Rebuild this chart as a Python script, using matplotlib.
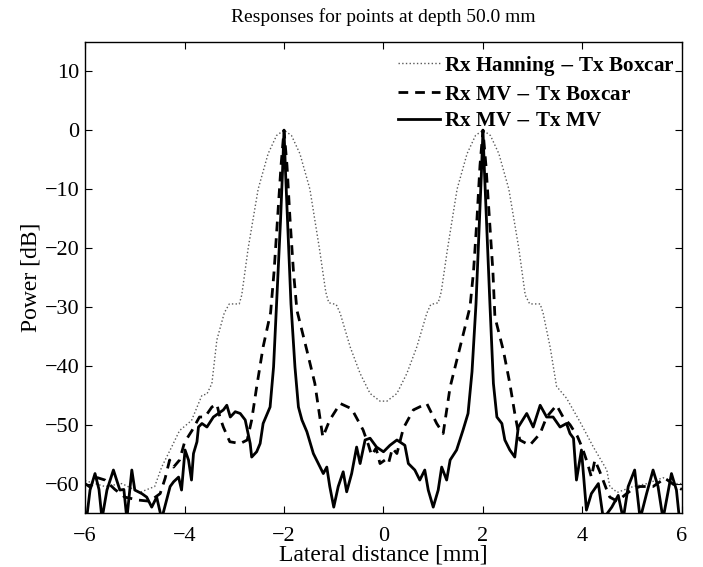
import numpy as np
import matplotlib.pyplot as plt

plt.rcParams['font.family'] = ['Liberation Serif', 'DejaVu Serif']
plt.rcParams['mathtext.fontset'] = 'stix'

# Rx Hanning - Tx Boxcar (dotted)
x_hann = [-6.0, -5.6, -5.26, -4.9, -4.6, -4.46, -4.26, -4.1, -3.86, -3.65, -3.55, -3.45,
          -3.35, -3.2, -3.1, -2.9, -2.85, -2.72, -2.52, -2.32, -2.15, -2.0, -1.85, -1.68,
          -1.48, -1.29, -1.16, -1.1, -0.95, -0.87, -0.67, -0.47, -0.27, -0.07, 0.07, 0.27,
          0.47, 0.67, 0.87, 0.95, 1.1, 1.16, 1.29, 1.48, 1.68, 1.85, 2.0, 2.15, 2.32, 2.52,
          2.72, 2.85, 2.94, 3.15, 3.21, 3.35, 3.48, 3.68, 3.95, 4.22, 4.49, 4.55, 4.7, 5.02,
          5.3, 5.62, 5.89, 6.0]
y_hann = [-59.5, -60.5, -60, -61.5, -60.5, -57.2, -53.8, -51, -49.3, -45, -44.8, -43,
          -35.6, -31, -29.5, -29.5, -28, -20, -10, -4, -0.9, 0, -0.9, -4,
          -10, -20, -27.5, -29.3, -29.6, -31.1, -36.8, -41.3, -44.7, -46, -46, -44.7,
          -41.3, -36.8, -31.1, -29.6, -29.3, -27.5, -20, -10, -4, -0.9, 0, -0.9, -4, -10,
          -20, -28, -29.5, -29.5, -31.1, -36.8, -43.5, -45.5, -49.5, -53.8, -57.7, -60.5, -61.5, -60.5,
          -60, -59, -60, -60]

# Rx MV - Tx Boxcar (dashed)
x_mvbox = [-6.0, -5.9, -5.75, -5.6, -5.4, -5.2, -4.93, -4.7, -4.49, -4.39, -4.3, -4.22,
           -4.1, -4.0, -3.85, -3.7, -3.59, -3.45, -3.35, -3.29, -3.22, -3.09, -2.88, -2.74,
           -2.65, -2.55, -2.42, -2.27, -2.2, -2.13, -2.06, -2.0, -1.94, -1.88, -1.81, -1.74,
           -1.54, -1.38, -1.28, -1.22, -1.08, -0.87, -0.64, -0.41, -0.3, -0.24, -0.15, -0.07,
           0.03, 0.1, 0.18, 0.27, 0.4, 0.6, 0.87, 1.07, 1.2, 1.34, 1.54, 1.74,
           1.81, 1.88, 1.94, 2.0, 2.06, 2.13, 2.2, 2.24, 2.41, 2.54, 2.64, 2.74,
           2.94, 3.15, 3.28, 3.48, 3.61, 3.75, 3.9, 4.0, 4.1, 4.18, 4.25, 4.35,
           4.49, 4.55, 4.7, 4.89, 5.0, 5.16, 5.42, 5.66, 5.89, 6.0]
y_mvbox = [-60, -60.6, -59, -59.4, -61, -62.3, -62.8, -63, -61.7, -59.1, -56, -57.2,
           -56, -53, -51, -48.7, -48.7, -47, -46.5, -48.7, -50.4, -52.9, -53.2, -52.6,
           -49.2, -43.6, -36.8, -31, -24, -15, -6, 0, -6, -15, -24, -30.6,
           -37.4, -43, -48.7, -52.1, -49.2, -46.4, -47.3, -50.9, -53.5, -55.2, -54, -56.6,
           -56, -56.6, -54, -54.9, -50.6, -47.5, -46.4, -49.8, -51.5, -43.6, -36.8, -30,
           -24, -15, -6, 0, -6, -15, -24, -31.7, -37.4, -43, -48.1, -52.6,
           -53.5, -51.5, -48.7, -46.7, -48.7, -50, -52, -54, -56.5, -58.9, -56, -58,
           -61.1, -62.3, -63, -61.7, -61, -60.5, -60.5, -59.1, -60.5, -61]

# Rx MV - Tx MV (solid)
x_mvmv = [-5.97, -5.9, -5.8, -5.72, -5.66, -5.56, -5.43, -5.3, -5.22, -5.16, -5.06, -5.0,
          -4.86, -4.76, -4.66, -4.56, -4.46, -4.36, -4.29, -4.22, -4.12, -4.06, -3.99, -3.92,
          -3.86, -3.82, -3.75, -3.72, -3.65, -3.55, -3.42, -3.32, -3.22, -3.15, -3.08, -2.98,
          -2.88, -2.78, -2.75, -2.68, -2.65, -2.55, -2.48, -2.42, -2.28, -2.21, -2.15, -2.07,
          -2.03, -2.0, -1.97, -1.93, -1.86, -1.78, -1.71, -1.64, -1.54, -1.41, -1.31, -1.21,
          -1.14, -1.08, -1.0, -0.91, -0.81, -0.74, -0.64, -0.54, -0.47, -0.37, -0.27, -0.14,
          0.0, 0.13, 0.27, 0.43, 0.5, 0.63, 0.73, 0.83, 0.9, 1.0, 1.1, 1.17,
          1.27, 1.34, 1.47, 1.6, 1.7, 1.78, 1.86, 1.93, 1.97, 2.0, 2.03, 2.07,
          2.14, 2.21, 2.28, 2.38, 2.44, 2.54, 2.64, 2.71, 2.88, 3.01, 3.15, 3.28,
          3.41, 3.55, 3.68, 3.75, 3.82, 3.88, 3.98, 4.08, 4.18, 4.32, 4.42, 4.59,
          4.72, 4.82, 4.92, 5.05, 5.16, 5.29, 5.42, 5.52, 5.62, 5.79, 5.89, 5.95]
y_mvmv = [-66, -61.1, -58.3, -61, -66, -61.1, -57.7, -61.1, -61, -66, -57.7, -61.1,
          -61.7, -62.3, -64, -62.3, -66, -62.8, -60.5, -59.7, -58.9, -61.1, -54.3, -56,
          -59.4, -54.9, -52.9, -50.4, -49.8, -50.4, -48.7, -48.1, -47.5, -46.7, -48.7, -47.8,
          -48.1, -49.2, -50.4, -53.2, -55.5, -54.6, -53.2, -49.8, -47, -40.2, -29.5, -15.3,
          -7, 0, -7, -15.3, -29.5, -40.2, -47, -49.2, -51.2, -54.9, -56.6, -58.3,
          -57.2, -60.5, -64, -60.5, -58, -61.4, -58.3, -53.8, -56.6, -52.6, -52.3, -53.8,
          -54.6, -53.5, -52.6, -53.5, -56.6, -57.7, -59.4, -57.7, -61.1, -64, -61.1, -57.2,
          -59.4, -56, -54.3, -50.9, -48.1, -41, -29.5, -15.3, -7, 0, -7, -15.3,
          -29.5, -43, -48.7, -49.8, -52.6, -54.3, -55.5, -50.4, -48.1, -50.4, -46.7, -48.7,
          -48.7, -50.4, -49.8, -51.5, -52.3, -59.4, -54.3, -64.5, -61.7, -60, -66, -64,
          -62, -66, -60.5, -57.7, -66, -61.7, -57.7, -60.5, -66, -58.3, -61.1, -66]

fig = plt.figure(figsize=(7.03, 5.67), dpi=100)
ax = fig.add_axes([0.121, 0.0952, 0.849, 0.831])

ax.plot(x_hann, y_hann, linestyle=':', color='0.35', linewidth=1.0, label='Rx Hanning $-$ Tx Boxcar')
ax.plot(x_mvbox, y_mvbox, linestyle='--', dashes=(3.5, 2.5), color='black', linewidth=2.0,
        label='Rx MV $-$ Tx Boxcar')
ax.plot(x_mvmv, y_mvmv, linestyle='-', color='black', linewidth=2.0, label='Rx MV $-$ Tx MV')

ax.set_xlim(-6, 6)
ax.set_ylim(-65, 15)
ax.set_xticks([-6, -4, -2, 0, 2, 4, 6])
ax.set_yticks([-60, -50, -40, -30, -20, -10, 0, 10])
ax.tick_params(direction='in', length=5, labelsize=16, top=True, right=True)
ax.tick_params(axis='x', pad=10)
ax.tick_params(axis='y', pad=4)
for s in ax.spines.values():
    s.set_linewidth(1.0)

ax.set_title('Responses for points at depth 50.0 mm', fontsize=14, pad=14)
ax.set_xlabel('Lateral distance [mm]', fontsize=17, labelpad=-1)
ax.set_ylabel('Power [dB]', fontsize=17, labelpad=2)

leg = ax.legend(loc='upper right', frameon=False, prop={'weight': 'bold', 'size': 15.2},
                handlelength=2.0, handletextpad=0.2, labelspacing=0.32,
                borderaxespad=0.1, bbox_to_anchor=(1.006, 0.997))

fig.savefig('out.png', dpi=100)
